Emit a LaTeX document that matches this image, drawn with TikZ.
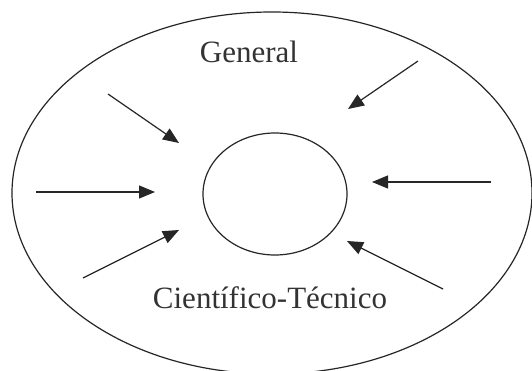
\documentclass[tikz,border=0pt]{standalone}
\usepackage{fontspec}
\setmainfont{Liberation Serif}
\usetikzlibrary{arrows.meta,shapes.geometric}
\begin{document}
\begin{tikzpicture}[x=1pt,y=-1pt,
  ray/.style={draw=black!85,line width=1.2pt,-{Triangle[length=16pt,width=13pt]}},
  lbl/.style={font=\fontsize{31}{36}\selectfont,text=black!80,inner sep=0pt,anchor=base}]
\useasboundingbox (0,0) rectangle (532,371);
\fill[white] (0,0) rectangle (532,371);
\node[draw=black!85,line width=1.2pt,ellipse,minimum width=520pt,minimum height=362pt,inner sep=0pt] (outer) at (272,193) {};
\node[draw=black!85,line width=1.2pt,ellipse,minimum width=144pt,minimum height=122pt,inner sep=0pt] (core) at (275,194) {};
\node[lbl] (gen) at (249,63) {General};
\node[lbl] (cyt) at (270,308) {Científico-Técnico};
\coordinate (a1) at (108,94);  \coordinate (b1) at (179,143);
\coordinate (a2) at (418,61);  \coordinate (b2) at (348,109);
\coordinate (a3) at (36,192);  \coordinate (b3) at (155,192);
\coordinate (a4) at (491,182); \coordinate (b4) at (372,182);
\coordinate (a5) at (83,278);  \coordinate (b5) at (179,230);
\coordinate (a6) at (443,289); \coordinate (b6) at (347,241);
\foreach \i in {1,...,6} \draw[ray] (a\i) -- (b\i);
\end{tikzpicture}
\end{document}
